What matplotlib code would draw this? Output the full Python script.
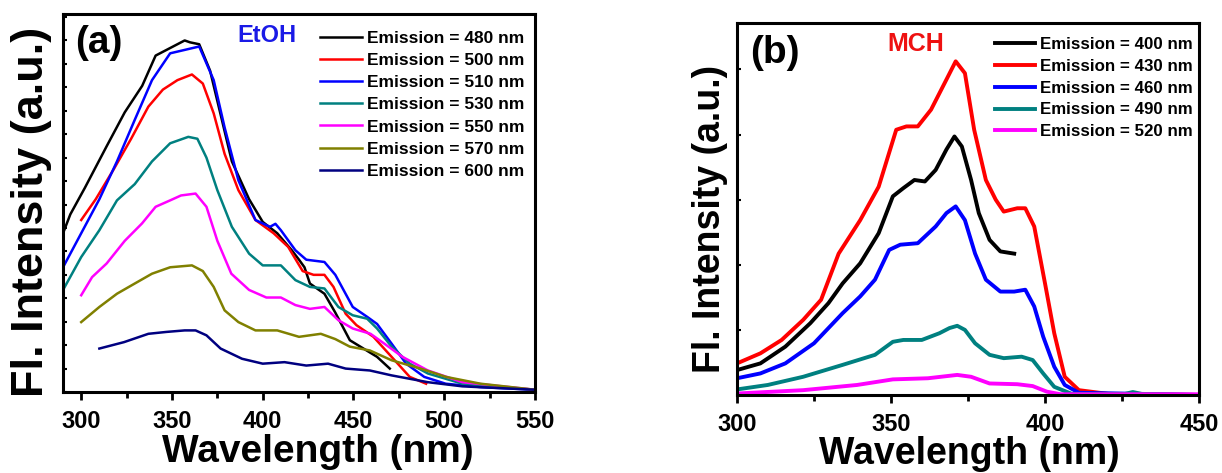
import numpy as np
import matplotlib
matplotlib.use('Agg')
import matplotlib.pyplot as plt
from matplotlib.ticker import MultipleLocator

# === STYLE SETTINGS ===
plt.rcParams['font.family'] = ['Liberation Sans', 'DejaVu Sans']
plt.rcParams['font.weight'] = 'bold'
plt.rcParams['axes.linewidth'] = 2.2

# ---- panel (a): EtOH ----
etoh_labels = ['Emission = 480 nm', 'Emission = 500 nm', 'Emission = 510 nm',
               'Emission = 530 nm', 'Emission = 550 nm', 'Emission = 570 nm',
               'Emission = 600 nm']
etoh_colors = ['black', 'red', 'blue', '#008080', 'magenta', '#808000', '#000080']

em480_x = [290, 294, 302, 314, 324, 333.6, 341, 349, 357, 360, 365, 371, 377, 383, 392.5,
           400, 408, 416, 420, 423, 426, 434, 440, 448, 455.5, 463, 470]
em480_y = [42, 47, 54, 65, 74, 81, 89, 91, 93, 92.5, 92, 85, 73, 61, 51,
           45, 42, 37.5, 35, 33, 28.7, 26, 21, 13.7, 11.5, 9.3, 6.2]

em500_x = [300, 308, 318, 327.5, 337, 345, 353, 361, 367, 373, 379, 386.6, 396, 406, 414,
           422, 428, 434, 439, 445.7, 451.6, 461, 471, 481, 490]
em500_y = [45.5, 51, 59, 67, 75.5, 80, 82.5, 84, 81.6, 73.7, 63, 53.4, 45.5, 42, 38.4,
           32, 31, 31, 27.8, 20.7, 17.7, 14.6, 9.3, 4, 2.2]

em510_x = [290, 300, 310, 319.7, 329.5, 339, 349, 357, 365, 373, 379, 386.6, 396, 404, 407,
           410, 418, 424, 434, 440, 449.6, 457.5, 463, 471, 479, 489, 500.8, 520, 550]
em510_y = [33, 42, 51, 61, 72, 82.5, 89.6, 90.5, 91.4, 82.5, 70, 56, 45.5, 43.7, 44.5,
           42.8, 37.5, 35, 34.4, 31, 22.5, 19.9, 18, 12.8, 7.5, 4, 2.2, 1.3, 0.6]

em530_x = [290, 300, 310, 319.7, 329.5, 339, 349, 359, 364, 369, 375, 383, 392.5, 400, 410,
           418, 426, 434, 441.7, 449.6, 457.5, 463, 471, 481, 491, 510, 550]
em530_y = [27, 35.7, 42.8, 50.7, 55, 61, 65.8, 67.5, 67, 62, 53.4, 43.7, 36.6, 33.5, 33.5,
           29.6, 27.8, 27.4, 22.5, 20.3, 19.4, 16.8, 12, 7.5, 4.9, 2.2, 0.6]

em550_x = [300, 306, 314, 324, 333.5, 341, 349, 355, 363, 369, 375, 382.7, 392.5, 402, 410,
           418, 426, 434, 441.7, 449.6, 459.4, 467, 477, 491, 510, 550]
em550_y = [25.6, 30.4, 34, 40, 44.6, 49, 50.7, 52, 52.5, 49, 40, 31.3, 27, 25, 25,
           23, 22, 22.5, 19, 16.8, 15.4, 12.8, 9.3, 5.7, 2.6, 0.6]

em570_x = [300, 310, 319.7, 329.5, 339, 349, 361, 367, 373, 379, 386.6, 396, 408, 420, 432,
           440, 448, 459, 471, 487, 501, 520, 550]
em570_y = [18.5, 22.5, 26, 28.7, 31.3, 33, 33.5, 32, 27.8, 21.6, 18.5, 16.3, 16.3, 14.6, 15.4,
           14, 12, 11, 8.4, 6.2, 4, 2.2, 0.6]

em600_x = [310, 323.6, 337, 347, 357, 363, 369, 376.8, 388.6, 400, 412, 424, 436, 445.7, 459,
           471, 491, 510, 550]
em600_y = [11.5, 13.2, 15.4, 15.9, 16.3, 16.3, 15, 11.5, 8.8, 7.5, 7.9, 7, 7.5, 6.2, 5.7,
           4.4, 2.6, 1.5, 0.6]

etoh_x = [em480_x, em500_x, em510_x, em530_x, em550_x, em570_x, em600_x]
etoh_y = [em480_y, em500_y, em510_y, em530_y, em550_y, em570_y, em600_y]

# ---- panel (b): MCH ----
mch_labels = ['Emission = 400 nm', 'Emission = 430 nm', 'Emission = 460 nm',
              'Emission = 490 nm', 'Emission = 520 nm']
mch_colors = ['black', 'red', 'blue', '#008080', 'magenta']

m400_x = [300, 307.6, 315.7, 323.8, 329.7, 334.3, 340, 346, 350.6, 354, 357.6, 361, 364.5,
          368, 370.6, 373, 376, 378.5, 382, 385.5, 390]
m400_y = [6.7, 8.5, 13, 19.3, 24.7, 30, 35.4, 43.5, 53.4, 55.6, 57.8, 57.4, 60.5,
          66, 69.5, 66.8, 57.8, 48.9, 41.7, 38.6, 38]

m430_x = [300, 307.6, 314.5, 321.5, 327.3, 333, 340, 346, 351.7, 355, 358.7, 363, 368,
          371, 374, 377, 380.8, 384, 386.6, 391, 393.6, 396.5, 400, 403, 406.4, 411,
          420.5, 450]
m430_y = [8.5, 11.2, 14.8, 20.2, 25.6, 38, 47, 56, 71.3, 72.2, 72.2, 76.7, 84.8,
          89.7, 86.5, 71.3, 57.8, 52.5, 49.3, 50.2, 50.2, 45.3, 30, 16.6, 4.9, 1.3,
          0.3, 0]

m460_x = [300, 307.6, 315.7, 325, 334.3, 340, 344.8, 349.4, 353, 358.7, 364.5, 368, 371,
          374, 377.3, 380.8, 385.5, 390, 393.6, 396.5, 399.4, 403, 406.4, 411, 450]
m460_y = [4.5, 5.8, 8.5, 13.9, 22, 26.5, 31, 39, 40.4, 40.8, 45.3, 48.9, 50.7,
          47, 38, 31, 27.8, 27.8, 28.3, 23.8, 15.7, 7.6, 2.7, 0.6, 0]

m490_x = [300, 310, 321.5, 334.3, 344.8, 350.6, 354, 360, 365.7, 369, 371.5, 374, 377.3,
          382, 386.6, 392.4, 396, 399.4, 403, 408.7, 426, 428.5, 431.4, 450]
m490_y = [1.5, 2.7, 4.9, 8.1, 10.8, 14.3, 14.8, 14.8, 16.6, 18, 18.6, 17.5, 13.9,
          10.8, 9.9, 10.3, 9.4, 5.8, 2.2, 0.3, 0.3, 0.8, 0.3, 0]

m520_x = [300, 321.5, 339, 350.6, 362, 371.5, 376, 382, 391, 396, 400.6, 405, 450]
m520_y = [0.4, 1.3, 2.7, 4.2, 4.5, 5.4, 4.9, 3.1, 2.9, 2.4, 0.9, 0.2, 0.2]

mch_x = [m400_x, m430_x, m460_x, m490_x, m520_x]
mch_y = [m400_y, m430_y, m460_y, m490_y, m520_y]

fig = plt.figure(figsize=(12.22, 4.73), dpi=100)
ax_a = fig.add_axes([0.0516, 0.1712, 0.3862, 0.7992])
ax_b = fig.add_axes([0.6031, 0.1649, 0.3781, 0.7865])

for xs, ys, c, lab in zip(etoh_x, etoh_y, etoh_colors, etoh_labels):
    ax_a.plot(xs, ys, color=c, lw=1.8, label=lab)
for xs, ys, c, lab in zip(mch_x, mch_y, mch_colors, mch_labels):
    ax_b.plot(xs, ys, color=c, lw=2.8, label=lab)

ax_a.set_xlim(290, 550)
ax_a.set_ylim(0, 100)
ax_b.set_xlim(300, 450)
ax_b.set_ylim(0, 100)

ax_a.yaxis.set_major_locator(MultipleLocator(6.2))
ax_b.yaxis.set_major_locator(MultipleLocator(17.5))

for ax in (ax_a, ax_b):
    ax.xaxis.set_major_locator(MultipleLocator(50))
    ax.xaxis.set_minor_locator(MultipleLocator(25))
    ax.tick_params(axis='x', which='major', direction='out', length=6, width=2,
                   labelsize=17, pad=7)
    ax.tick_params(axis='x', which='minor', direction='out', length=4, width=2)
    ax.tick_params(axis='y', which='major', direction='in', length=3, width=1.5,
                   labelleft=False)

ax_a.set_xlabel('Wavelength (nm)', fontsize=28, fontweight='bold')
ax_b.set_xlabel('Wavelength (nm)', fontsize=27, fontweight='bold')
ax_a.xaxis.set_label_coords(0.539, -0.11)
ax_b.xaxis.set_label_coords(0.504, -0.11)

ax_a.set_ylabel('Fl. Intensity (a.u.)', fontsize=32.5, fontweight='bold')
ax_b.set_ylabel('Fl. Intensity (a.u.)', fontsize=27, fontweight='bold')
ax_a.yaxis.set_label_coords(-0.023, 0.477)
ax_b.yaxis.set_label_coords(-0.02, 0.474)

ax_a.text(0.025, 0.923, '(a)', transform=ax_a.transAxes, fontsize=28,
          fontweight='bold', ha='left', va='center')
ax_b.text(0.028, 0.919, '(b)', transform=ax_b.transAxes, fontsize=28,
          fontweight='bold', ha='left', va='center')
ax_a.text(0.432, 0.942, 'EtOH', transform=ax_a.transAxes, fontsize=17,
          fontweight='bold', color='#1a1ae6', ha='center', va='center')
ax_b.text(0.387, 0.944, 'MCH', transform=ax_b.transAxes, fontsize=18,
          fontweight='bold', color='#ee1111', ha='center', va='center')

ax_a.legend(loc='upper left', bbox_to_anchor=(0.5445, 0.955), frameon=False,
            fontsize=12.5, labelspacing=0.4, handlelength=2.4, handletextpad=0.29,
            borderpad=0, borderaxespad=0)
ax_b.legend(loc='upper left', bbox_to_anchor=(0.558, 0.962), frameon=False,
            fontsize=12.2, labelspacing=0.4, handlelength=2.4, handletextpad=0.28,
            borderpad=0, borderaxespad=0)

fig.savefig('out.png', dpi=100)
